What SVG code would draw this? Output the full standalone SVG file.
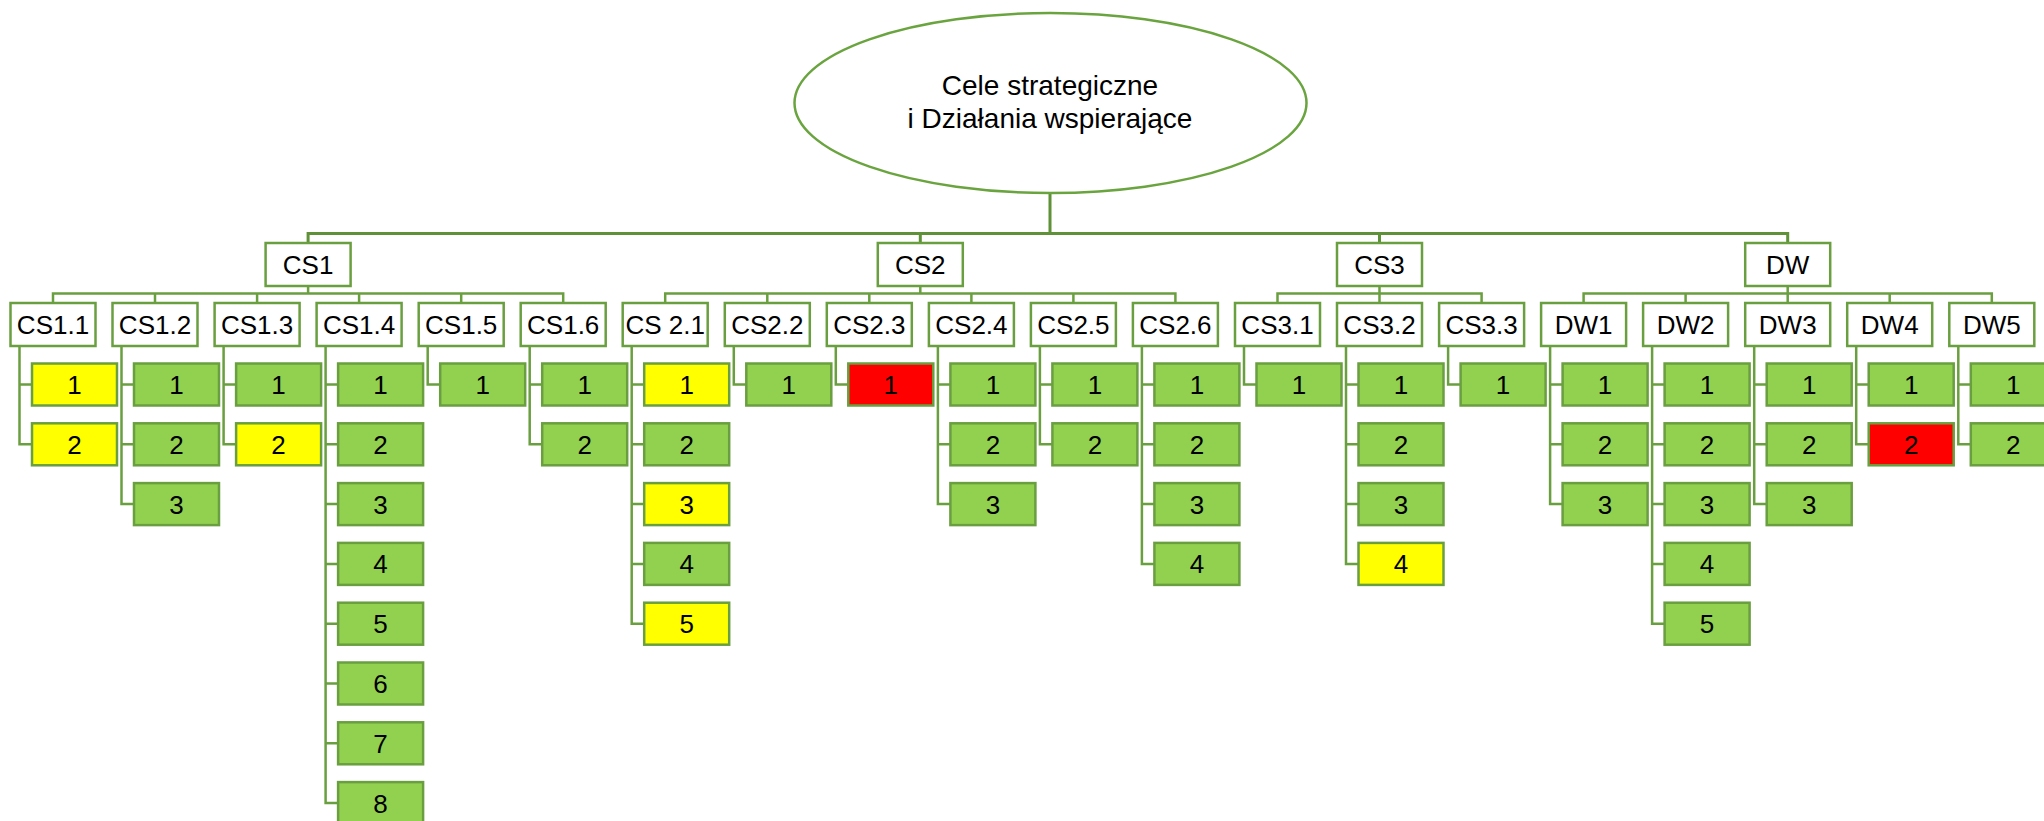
<svg xmlns="http://www.w3.org/2000/svg" width="2044" height="821" viewBox="0 0 2044 821">
<style>
.n rect{stroke:#6A9F40;stroke-width:2.5}
.w rect{fill:#FFFFFF}
.g rect{fill:#92D050}
.y rect{fill:#FFFF00}
.r rect{fill:#FF0000}
text{font-family:"Liberation Sans",Arial,sans-serif;font-size:26px;text-anchor:middle;fill:#000}
.c path{fill:none;stroke:#6A9F40;stroke-width:2.5}
</style>
<rect width="2044" height="821" fill="#FFFFFF"/>
<g id="connectors" class="c">
<path d="M1050 193V233.5M308.1 243V233.5H1787.7V243M920.3 233.5V243M1379.5 233.5V243" style="stroke-width:3;stroke:#5F9138"/>
<path d="M308.1 286V293.5M53 303V293.5H563.2V303M155 293.5V303M257.1 293.5V303M359.1 293.5V303M461.2 293.5V303"/>
<path d="M920.3 286V293.5M665.2 303V293.5H1175.4V303M767.3 293.5V303M869.3 293.5V303M971.4 293.5V303M1073.4 293.5V303"/>
<path d="M1379.5 286V303M1277.5 303V293.5H1481.6V303"/>
<path d="M1787.7 286V303M1583.6 303V293.5H1991.8V303M1685.6 293.5V303M1889.7 293.5V303"/>
<path d="M19.5 346V444.3H32M19.5 384.5H32"/>
<path d="M121.5 346V504.1H134M121.5 384.5H134M121.5 444.3H134"/>
<path d="M223.6 346V444.3H236.1M223.6 384.5H236.1"/>
<path d="M325.6 346V803.1H338.1M325.6 384.5H338.1M325.6 444.3H338.1M325.6 504.1H338.1M325.6 563.9H338.1M325.6 623.7H338.1M325.6 683.5H338.1M325.6 743.3H338.1"/>
<path d="M427.7 346V384.5H440.2"/>
<path d="M529.7 346V444.3H542.2M529.7 384.5H542.2"/>
<path d="M631.7 346V623.7H644.2M631.7 384.5H644.2M631.7 444.3H644.2M631.7 504.1H644.2M631.7 563.9H644.2"/>
<path d="M733.8 346V384.5H746.3"/>
<path d="M835.8 346V384.5H848.3"/>
<path d="M937.9 346V504.1H950.4M937.9 384.5H950.4M937.9 444.3H950.4"/>
<path d="M1039.9 346V444.3H1052.4M1039.9 384.5H1052.4"/>
<path d="M1141.9 346V563.9H1154.4M1141.9 384.5H1154.4M1141.9 444.3H1154.4M1141.9 504.1H1154.4"/>
<path d="M1244 346V384.5H1256.5"/>
<path d="M1346 346V563.9H1358.5M1346 384.5H1358.5M1346 444.3H1358.5M1346 504.1H1358.5"/>
<path d="M1448.1 346V384.5H1460.6"/>
<path d="M1550.1 346V504.1H1562.6M1550.1 384.5H1562.6M1550.1 444.3H1562.6"/>
<path d="M1652.1 346V623.7H1664.6M1652.1 384.5H1664.6M1652.1 444.3H1664.6M1652.1 504.1H1664.6M1652.1 563.9H1664.6"/>
<path d="M1754.2 346V504.1H1766.7M1754.2 384.5H1766.7M1754.2 444.3H1766.7"/>
<path d="M1856.2 346V444.3H1868.7M1856.2 384.5H1868.7"/>
<path d="M1958.3 346V444.3H1970.8M1958.3 384.5H1970.8"/>
</g>
<g id="root">
<ellipse cx="1050.5" cy="103" rx="256" ry="90" fill="#FFFFFF" stroke="#6AA43F" stroke-width="2.5"/>
<text x="1050" y="95" style="font-size:28px">Cele strategiczne</text>
<text x="1050" y="128" style="font-size:28px">i Działania wspierające</text>
</g>
<g id="cs1" class="n w" transform="translate(265.6,243)"><rect width="85" height="43"/><text x="42.5" y="31">CS1</text></g>
<g id="cs2" class="n w" transform="translate(877.8,243)"><rect width="85" height="43"/><text x="42.5" y="31">CS2</text></g>
<g id="cs3" class="n w" transform="translate(1337,243)"><rect width="85" height="43"/><text x="42.5" y="31">CS3</text></g>
<g id="dw" class="n w" transform="translate(1745.2,243)"><rect width="85" height="43"/><text x="42.5" y="31">DW</text></g>
<g id="cs1-1" class="n w" transform="translate(10.5,303)"><rect width="85" height="43"/><text x="42.5" y="31">CS1.1</text></g>
<g id="cs1-2" class="n w" transform="translate(112.5,303)"><rect width="85" height="43"/><text x="42.5" y="31">CS1.2</text></g>
<g id="cs1-3" class="n w" transform="translate(214.6,303)"><rect width="85" height="43"/><text x="42.5" y="31">CS1.3</text></g>
<g id="cs1-4" class="n w" transform="translate(316.6,303)"><rect width="85" height="43"/><text x="42.5" y="31">CS1.4</text></g>
<g id="cs1-5" class="n w" transform="translate(418.7,303)"><rect width="85" height="43"/><text x="42.5" y="31">CS1.5</text></g>
<g id="cs1-6" class="n w" transform="translate(520.7,303)"><rect width="85" height="43"/><text x="42.5" y="31">CS1.6</text></g>
<g id="cs2-1" class="n w" transform="translate(622.7,303)"><rect width="85" height="43"/><text x="42.5" y="31">CS 2.1</text></g>
<g id="cs2-2" class="n w" transform="translate(724.8,303)"><rect width="85" height="43"/><text x="42.5" y="31">CS2.2</text></g>
<g id="cs2-3" class="n w" transform="translate(826.8,303)"><rect width="85" height="43"/><text x="42.5" y="31">CS2.3</text></g>
<g id="cs2-4" class="n w" transform="translate(928.9,303)"><rect width="85" height="43"/><text x="42.5" y="31">CS2.4</text></g>
<g id="cs2-5" class="n w" transform="translate(1030.9,303)"><rect width="85" height="43"/><text x="42.5" y="31">CS2.5</text></g>
<g id="cs2-6" class="n w" transform="translate(1132.9,303)"><rect width="85" height="43"/><text x="42.5" y="31">CS2.6</text></g>
<g id="cs3-1" class="n w" transform="translate(1235,303)"><rect width="85" height="43"/><text x="42.5" y="31">CS3.1</text></g>
<g id="cs3-2" class="n w" transform="translate(1337,303)"><rect width="85" height="43"/><text x="42.5" y="31">CS3.2</text></g>
<g id="cs3-3" class="n w" transform="translate(1439.1,303)"><rect width="85" height="43"/><text x="42.5" y="31">CS3.3</text></g>
<g id="dw1" class="n w" transform="translate(1541.1,303)"><rect width="85" height="43"/><text x="42.5" y="31">DW1</text></g>
<g id="dw2" class="n w" transform="translate(1643.1,303)"><rect width="85" height="43"/><text x="42.5" y="31">DW2</text></g>
<g id="dw3" class="n w" transform="translate(1745.2,303)"><rect width="85" height="43"/><text x="42.5" y="31">DW3</text></g>
<g id="dw4" class="n w" transform="translate(1847.2,303)"><rect width="85" height="43"/><text x="42.5" y="31">DW4</text></g>
<g id="dw5" class="n w" transform="translate(1949.3,303)"><rect width="85" height="43"/><text x="42.5" y="31">DW5</text></g>
<g id="cs1-1-1" class="n y" transform="translate(32,363.5)"><rect width="85" height="42"/><text x="42.5" y="30.5">1</text></g>
<g id="cs1-1-2" class="n y" transform="translate(32,423.3)"><rect width="85" height="42"/><text x="42.5" y="30.5">2</text></g>
<g id="cs1-2-1" class="n g" transform="translate(134,363.5)"><rect width="85" height="42"/><text x="42.5" y="30.5">1</text></g>
<g id="cs1-2-2" class="n g" transform="translate(134,423.3)"><rect width="85" height="42"/><text x="42.5" y="30.5">2</text></g>
<g id="cs1-2-3" class="n g" transform="translate(134,483.1)"><rect width="85" height="42"/><text x="42.5" y="30.5">3</text></g>
<g id="cs1-3-1" class="n g" transform="translate(236.1,363.5)"><rect width="85" height="42"/><text x="42.5" y="30.5">1</text></g>
<g id="cs1-3-2" class="n y" transform="translate(236.1,423.3)"><rect width="85" height="42"/><text x="42.5" y="30.5">2</text></g>
<g id="cs1-4-1" class="n g" transform="translate(338.1,363.5)"><rect width="85" height="42"/><text x="42.5" y="30.5">1</text></g>
<g id="cs1-4-2" class="n g" transform="translate(338.1,423.3)"><rect width="85" height="42"/><text x="42.5" y="30.5">2</text></g>
<g id="cs1-4-3" class="n g" transform="translate(338.1,483.1)"><rect width="85" height="42"/><text x="42.5" y="30.5">3</text></g>
<g id="cs1-4-4" class="n g" transform="translate(338.1,542.9)"><rect width="85" height="42"/><text x="42.5" y="30.5">4</text></g>
<g id="cs1-4-5" class="n g" transform="translate(338.1,602.7)"><rect width="85" height="42"/><text x="42.5" y="30.5">5</text></g>
<g id="cs1-4-6" class="n g" transform="translate(338.1,662.5)"><rect width="85" height="42"/><text x="42.5" y="30.5">6</text></g>
<g id="cs1-4-7" class="n g" transform="translate(338.1,722.3)"><rect width="85" height="42"/><text x="42.5" y="30.5">7</text></g>
<g id="cs1-4-8" class="n g" transform="translate(338.1,782.1)"><rect width="85" height="42"/><text x="42.5" y="30.5">8</text></g>
<g id="cs1-5-1" class="n g" transform="translate(440.2,363.5)"><rect width="85" height="42"/><text x="42.5" y="30.5">1</text></g>
<g id="cs1-6-1" class="n g" transform="translate(542.2,363.5)"><rect width="85" height="42"/><text x="42.5" y="30.5">1</text></g>
<g id="cs1-6-2" class="n g" transform="translate(542.2,423.3)"><rect width="85" height="42"/><text x="42.5" y="30.5">2</text></g>
<g id="cs2-1-1" class="n y" transform="translate(644.2,363.5)"><rect width="85" height="42"/><text x="42.5" y="30.5">1</text></g>
<g id="cs2-1-2" class="n g" transform="translate(644.2,423.3)"><rect width="85" height="42"/><text x="42.5" y="30.5">2</text></g>
<g id="cs2-1-3" class="n y" transform="translate(644.2,483.1)"><rect width="85" height="42"/><text x="42.5" y="30.5">3</text></g>
<g id="cs2-1-4" class="n g" transform="translate(644.2,542.9)"><rect width="85" height="42"/><text x="42.5" y="30.5">4</text></g>
<g id="cs2-1-5" class="n y" transform="translate(644.2,602.7)"><rect width="85" height="42"/><text x="42.5" y="30.5">5</text></g>
<g id="cs2-2-1" class="n g" transform="translate(746.3,363.5)"><rect width="85" height="42"/><text x="42.5" y="30.5">1</text></g>
<g id="cs2-3-1" class="n r" transform="translate(848.3,363.5)"><rect width="85" height="42"/><text x="42.5" y="30.5">1</text></g>
<g id="cs2-4-1" class="n g" transform="translate(950.4,363.5)"><rect width="85" height="42"/><text x="42.5" y="30.5">1</text></g>
<g id="cs2-4-2" class="n g" transform="translate(950.4,423.3)"><rect width="85" height="42"/><text x="42.5" y="30.5">2</text></g>
<g id="cs2-4-3" class="n g" transform="translate(950.4,483.1)"><rect width="85" height="42"/><text x="42.5" y="30.5">3</text></g>
<g id="cs2-5-1" class="n g" transform="translate(1052.4,363.5)"><rect width="85" height="42"/><text x="42.5" y="30.5">1</text></g>
<g id="cs2-5-2" class="n g" transform="translate(1052.4,423.3)"><rect width="85" height="42"/><text x="42.5" y="30.5">2</text></g>
<g id="cs2-6-1" class="n g" transform="translate(1154.4,363.5)"><rect width="85" height="42"/><text x="42.5" y="30.5">1</text></g>
<g id="cs2-6-2" class="n g" transform="translate(1154.4,423.3)"><rect width="85" height="42"/><text x="42.5" y="30.5">2</text></g>
<g id="cs2-6-3" class="n g" transform="translate(1154.4,483.1)"><rect width="85" height="42"/><text x="42.5" y="30.5">3</text></g>
<g id="cs2-6-4" class="n g" transform="translate(1154.4,542.9)"><rect width="85" height="42"/><text x="42.5" y="30.5">4</text></g>
<g id="cs3-1-1" class="n g" transform="translate(1256.5,363.5)"><rect width="85" height="42"/><text x="42.5" y="30.5">1</text></g>
<g id="cs3-2-1" class="n g" transform="translate(1358.5,363.5)"><rect width="85" height="42"/><text x="42.5" y="30.5">1</text></g>
<g id="cs3-2-2" class="n g" transform="translate(1358.5,423.3)"><rect width="85" height="42"/><text x="42.5" y="30.5">2</text></g>
<g id="cs3-2-3" class="n g" transform="translate(1358.5,483.1)"><rect width="85" height="42"/><text x="42.5" y="30.5">3</text></g>
<g id="cs3-2-4" class="n y" transform="translate(1358.5,542.9)"><rect width="85" height="42"/><text x="42.5" y="30.5">4</text></g>
<g id="cs3-3-1" class="n g" transform="translate(1460.6,363.5)"><rect width="85" height="42"/><text x="42.5" y="30.5">1</text></g>
<g id="dw1-1" class="n g" transform="translate(1562.6,363.5)"><rect width="85" height="42"/><text x="42.5" y="30.5">1</text></g>
<g id="dw1-2" class="n g" transform="translate(1562.6,423.3)"><rect width="85" height="42"/><text x="42.5" y="30.5">2</text></g>
<g id="dw1-3" class="n g" transform="translate(1562.6,483.1)"><rect width="85" height="42"/><text x="42.5" y="30.5">3</text></g>
<g id="dw2-1" class="n g" transform="translate(1664.6,363.5)"><rect width="85" height="42"/><text x="42.5" y="30.5">1</text></g>
<g id="dw2-2" class="n g" transform="translate(1664.6,423.3)"><rect width="85" height="42"/><text x="42.5" y="30.5">2</text></g>
<g id="dw2-3" class="n g" transform="translate(1664.6,483.1)"><rect width="85" height="42"/><text x="42.5" y="30.5">3</text></g>
<g id="dw2-4" class="n g" transform="translate(1664.6,542.9)"><rect width="85" height="42"/><text x="42.5" y="30.5">4</text></g>
<g id="dw2-5" class="n g" transform="translate(1664.6,602.7)"><rect width="85" height="42"/><text x="42.5" y="30.5">5</text></g>
<g id="dw3-1" class="n g" transform="translate(1766.7,363.5)"><rect width="85" height="42"/><text x="42.5" y="30.5">1</text></g>
<g id="dw3-2" class="n g" transform="translate(1766.7,423.3)"><rect width="85" height="42"/><text x="42.5" y="30.5">2</text></g>
<g id="dw3-3" class="n g" transform="translate(1766.7,483.1)"><rect width="85" height="42"/><text x="42.5" y="30.5">3</text></g>
<g id="dw4-1" class="n g" transform="translate(1868.7,363.5)"><rect width="85" height="42"/><text x="42.5" y="30.5">1</text></g>
<g id="dw4-2" class="n r" transform="translate(1868.7,423.3)"><rect width="85" height="42"/><text x="42.5" y="30.5">2</text></g>
<g id="dw5-1" class="n g" transform="translate(1970.8,363.5)"><rect width="85" height="42"/><text x="42.5" y="30.5">1</text></g>
<g id="dw5-2" class="n g" transform="translate(1970.8,423.3)"><rect width="85" height="42"/><text x="42.5" y="30.5">2</text></g>
</svg>
